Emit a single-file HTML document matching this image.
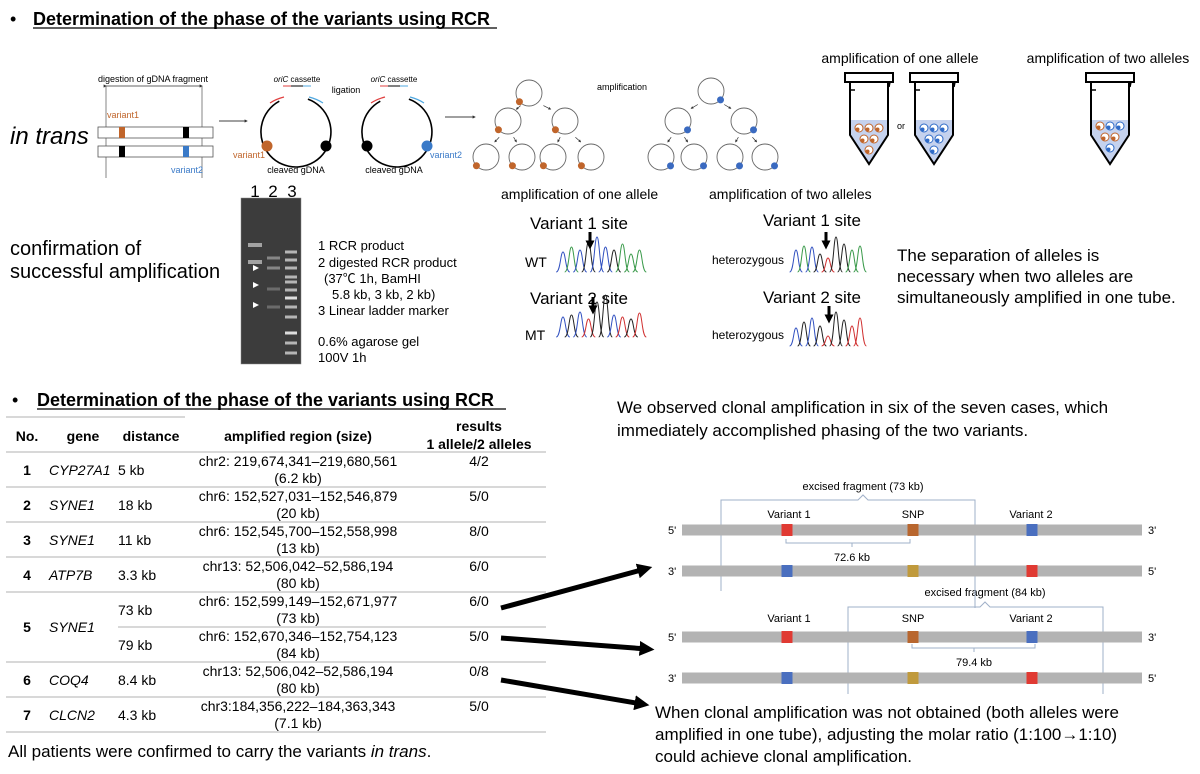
<!DOCTYPE html>
<html><head><meta charset="utf-8"><style>
html,body{margin:0;padding:0;background:#fff;}
svg{display:block;font-family:"Liberation Sans","Noto Sans CJK JP",sans-serif;}
</style></head><body>
<svg id="fig" width="1200" height="774" viewBox="0 0 1200 774" xmlns="http://www.w3.org/2000/svg">
<defs>
<marker id="ah" markerWidth="6" markerHeight="6" refX="5" refY="3" orient="auto"><path d="M0,0 L6,3 L0,6 z" fill="#000"/></marker>
<marker id="ahs" markerWidth="4" markerHeight="4" refX="3" refY="2" orient="auto"><path d="M0,0 L4,2 L0,4 z" fill="#333"/></marker>
<marker id="ahb" markerWidth="3" markerHeight="3" refX="1.5" refY="1.5" orient="auto"><path d="M0,0 L3,1.5 L0,3 z" fill="#000"/></marker>
</defs>

<g>
<text x="10" y="25" font-size="18">•</text>
<text x="33" y="25" font-size="18" font-weight="bold">Determination of the phase of the variants using RCR</text>
<line x1="33" y1="28" x2="497" y2="28" stroke="#000" stroke-width="1.3"/>
</g>

<g>
<text x="10" y="144" font-size="24" font-style="italic">in trans</text>
<text x="153" y="82" font-size="9" text-anchor="middle">digestion of gDNA fragment</text>
<line x1="106" y1="86" x2="202" y2="86" stroke="#333" stroke-width="0.8" marker-start="url(#ahs)" marker-end="url(#ahs)"/>
<line x1="106" y1="86" x2="106" y2="178" stroke="#666" stroke-width="0.8"/>
<line x1="202" y1="86" x2="202" y2="178" stroke="#666" stroke-width="0.8"/>
<rect x="98" y="127" width="115" height="11" fill="#fff" stroke="#555" stroke-width="0.8"/>
<rect x="98" y="146" width="115" height="11" fill="#fff" stroke="#555" stroke-width="0.8"/>
<rect x="119" y="127" width="6" height="11" fill="#c0652b"/>
<rect x="183" y="127" width="6" height="11" fill="#000"/>
<rect x="119" y="146" width="6" height="11" fill="#000"/>
<rect x="183" y="146" width="6" height="11" fill="#3a7ac8"/>
<text x="107" y="118" font-size="9" fill="#c0652b">variant1</text>
<text x="171" y="173" font-size="9" fill="#3a7ac8">variant2</text>
<line x1="219" y1="121" x2="247" y2="121" stroke="#000" stroke-width="0.8" marker-end="url(#ahs)"/>
</g>

<g>
<text x="297" y="82" font-size="8" text-anchor="middle" font-style="italic">oriC <tspan font-style="normal">cassette</tspan></text>
<line x1="283" y1="86" x2="291" y2="86" stroke="#e04040" stroke-width="1"/><line x1="291" y1="86" x2="303" y2="86" stroke="#000" stroke-width="1"/><line x1="303" y1="86" x2="311" y2="86" stroke="#50a8e0" stroke-width="1"/>
<path d="M 307.9 99.1 A 35 35 0 1 1 279.3 101.2" fill="none" stroke="#000" stroke-width="1.6"/>
<path d="M 270 103 Q 276 99 284 97" fill="none" stroke="#e04040" stroke-width="1.2"/>
<path d="M 309 97 Q 317 99 323 103" fill="none" stroke="#50a8e0" stroke-width="1.2"/>
<circle cx="267" cy="146" r="5.5" fill="#c0652b"/>
<circle cx="326" cy="146" r="5.5" fill="#000"/>
<text x="233" y="158" font-size="9" fill="#c0652b">variant1</text>
<text x="296" y="173" font-size="9" text-anchor="middle">cleaved gDNA</text>
<text x="346" y="93" font-size="9" text-anchor="middle">ligation</text>
</g>
<g>
<text x="394" y="82" font-size="8" text-anchor="middle" font-style="italic">oriC <tspan font-style="normal">cassette</tspan></text>
<line x1="380" y1="86" x2="388" y2="86" stroke="#e04040" stroke-width="1"/><line x1="388" y1="86" x2="400" y2="86" stroke="#000" stroke-width="1"/><line x1="400" y1="86" x2="408" y2="86" stroke="#50a8e0" stroke-width="1"/>
<path d="M 408.9 99.1 A 35 35 0 1 1 380.3 101.2" fill="none" stroke="#000" stroke-width="1.6"/>
<path d="M 371 103 Q 377 99 385 97" fill="none" stroke="#e04040" stroke-width="1.2"/>
<path d="M 410 97 Q 418 99 424 103" fill="none" stroke="#50a8e0" stroke-width="1.2"/>
<circle cx="367" cy="146" r="5.5" fill="#000"/>
<circle cx="427" cy="146" r="5.5" fill="#3a7ac8"/>
<text x="430" y="158" font-size="9" fill="#3a7ac8">variant2</text>
<text x="394" y="173" font-size="9" text-anchor="middle">cleaved gDNA</text>
<line x1="445" y1="117" x2="475" y2="117" stroke="#000" stroke-width="0.8" marker-end="url(#ahs)"/>
<text x="597" y="90" font-size="9">amplification</text>
</g>

<g id="trees"></g>

<g>
<text x="900" y="63" font-size="14" text-anchor="middle">amplification of one allele</text>
<text x="1108" y="63" font-size="14" text-anchor="middle">amplification of two alleles</text>
<text x="901" y="129" font-size="9" text-anchor="middle">or</text>
</g>
<g id="tubes"></g>

<g>
<text x="10" y="255" font-size="20">confirmation of</text>
<text x="10" y="278" font-size="20">successful amplification</text>
</g>
<g id="gel">
<text x="255" y="197" font-size="17" text-anchor="middle">1</text>
<text x="273" y="197" font-size="17" text-anchor="middle">2</text>
<text x="292" y="197" font-size="17" text-anchor="middle">3</text>
<rect x="241" y="198" width="60" height="166" fill="#3c3c3c"/>
<rect x="241" y="198" width="60" height="166" fill="none" stroke="#888" stroke-width="0.5"/>
</g>
<g font-size="13">
<text x="318" y="250">1 RCR product</text>
<text x="318" y="267">2 digested RCR product</text>
<text x="324" y="283">(37℃ 1h, BamHI</text>
<text x="332" y="299">5.8 kb, 3 kb, 2 kb)</text>
<text x="318" y="315">3 Linear ladder marker</text>
<text x="318" y="346">0.6% agarose gel</text>
<text x="318" y="362">100V 1h</text>
</g>

<g>
<text x="501" y="199" font-size="14">amplification of one allele</text>
<text x="709" y="199" font-size="14">amplification of two alleles</text>
<text x="530" y="229" font-size="17">Variant 1 site</text>
<text x="530" y="304" font-size="17">Variant 2 site</text>
<text x="525" y="267" font-size="14">WT</text>
<text x="525" y="340" font-size="14">MT</text>
<text x="763" y="226" font-size="17">Variant 1 site</text>
<text x="763" y="303" font-size="17">Variant 2 site</text>
<text x="712" y="264" font-size="12">heterozygous</text>
<text x="712" y="339" font-size="12">heterozygous</text>
</g>
<g id="chroma"></g>
<g font-size="17">
<text x="897" y="261">The separation of alleles is</text>
<text x="897" y="282">necessary when two alleles are</text>
<text x="897" y="303">simultaneously amplified in one tube.</text>
</g>

<g>
<text x="12" y="406" font-size="18">•</text>
<text x="37" y="406" font-size="18" font-weight="bold">Determination of the phase of the variants using RCR</text>
<line x1="37" y1="409" x2="506" y2="409" stroke="#000" stroke-width="1.3"/>
</g>
<g id="table">
<line x1="6" y1="417" x2="185" y2="417" stroke="#ccc" stroke-width="1.5"/>
<g font-size="14" font-weight="bold">
<text x="27" y="441" text-anchor="middle">No.</text>
<text x="83" y="441" text-anchor="middle">gene</text>
<text x="151" y="441" text-anchor="middle">distance</text>
<text x="298" y="441" text-anchor="middle">amplified region (size)</text>
<text x="479" y="431" text-anchor="middle">results</text>
<text x="479" y="449" text-anchor="middle">1 allele/2 alleles</text>
</g>
<line x1="6" y1="452" x2="546" y2="452" stroke="#ccc" stroke-width="1.5"/>
</g>
<text x="8" y="757" font-size="17">All patients were confirmed to carry the variants <tspan font-style="italic">in trans</tspan>.</text>

<g font-size="17">
<text x="617" y="413">We observed clonal amplification in six of the seven cases, which</text>
<text x="617" y="436">immediately accomplished phasing of the two variants.</text>
</g>
<g id="dia"></g>
<g font-size="17">
<text x="655" y="718">When clonal amplification was not obtained (both alleles were</text>
<text x="655" y="740">amplified in one tube), adjusting the molar ratio (1:100→1:10)</text>
<text x="655" y="762">could achieve clonal amplification.</text>
</g>
<g stroke="#000" stroke-width="5">
<line x1="501" y1="608" x2="645" y2="569" marker-end="url(#ahb)"/>
<line x1="501" y1="638" x2="647" y2="649" marker-end="url(#ahb)"/>
<line x1="501" y1="680" x2="642" y2="704" marker-end="url(#ahb)"/>
</g>
</svg>
<script>
const NS="http://www.w3.org/2000/svg";
function mk(parent,tag,attrs,txt){const e=document.createElementNS(NS,tag);for(const k in attrs)e.setAttribute(k,attrs[k]);if(txt!==undefined)e.textContent=txt;parent.appendChild(e);return e;}

const rowNos=["1","2","3","4","5","","6","7"];
const rowGenes=["CYP27A1","SYNE1","SYNE1","ATP7B","SYNE1","","COQ4","CLCN2"];
const rowDist=["5 kb","18 kb","11 kb","3.3 kb","73 kb","79 kb","8.4 kb","4.3 kb"];
const rowRegion=["chr2: 219,674,341–219,680,561","chr6: 152,527,031–152,546,879","chr6: 152,545,700–152,558,998","chr13: 52,506,042–52,586,194","chr6: 152,599,149–152,671,977","chr6: 152,670,346–152,754,123","chr13: 52,506,042–52,586,194","chr3:184,356,222–184,363,343"];
const rowSize=["(6.2 kb)","(20 kb)","(13 kb)","(80 kb)","(73 kb)","(84 kb)","(80 kb)","(7.1 kb)"];
const rowRes=["4/2","5/0","8/0","6/0","6/0","5/0","0/8","5/0"];

const tbl=document.getElementById('table');
rowRegion.forEach((r,i)=>{
  const top=452+i*35;
  const g=mk(tbl,'g',{});
  
  
  const cy=top+23;
  if(rowNos[i]){
    const y=(i===4)?632:cy;
    mk(g,'text',{x:27,y:y,'font-size':14,'font-weight':'bold','text-anchor':'middle'},rowNos[i]);
    mk(g,'text',{x:49,y:y,'font-size':14,'font-style':'italic'},rowGenes[i]);
  }
  mk(g,'text',{x:118,y:cy,'font-size':14},rowDist[i]);
  mk(g,'text',{x:298,y:top+14,'font-size':14,'text-anchor':'middle'},r);
  mk(g,'text',{x:298,y:top+31,'font-size':14,'text-anchor':'middle'},rowSize[i]);
  mk(g,'text',{x:479,y:top+14,'font-size':14,'text-anchor':'middle'},rowRes[i]);
  const x1=(i===4)?118:6;
  mk(g,'line',{x1:x1,y1:top+35,x2:546,y2:top+35,stroke:'#ccc','stroke-width':1.5});
});

const trees=document.getElementById('trees');
function tree(pos,dotAng,col,name){
  const g=mk(trees,'g',{});
  
  
  pos.forEach(p=>{
    mk(g,'circle',{cx:p[0],cy:p[1],r:13,fill:'none',stroke:'#666','stroke-width':0.9});
    mk(g,'circle',{cx:p[0]+13*Math.cos(dotAng),cy:p[1]+13*Math.sin(dotAng),r:3.5,fill:col});
  });
  const edges=[[0,1],[0,2],[1,3],[1,4],[2,5],[2,6]];
  edges.forEach(e=>{const a=pos[e[0]],b=pos[e[1]];
    const dx=b[0]-a[0],dy=b[1]-a[1];
    mk(g,'line',{x1:a[0]+dx*0.4,y1:a[1]+dy*0.45,x2:a[0]+dx*0.6,y2:a[1]+dy*0.58,stroke:'#333','stroke-width':0.7,'marker-end':'url(#ahs)'});
  });
}
tree([[529,93],[508,121],[565,121],[486,157],[522,157],[553,157],[591,157]],2.4,'#c0652b','tree-variant1');
tree([[711,91],[678,121],[744,121],[661,157],[694,157],[730,157],[765,157]],0.75,'#3a6ac0','tree-variant2');

const tubes=document.getElementById('tubes');
function tube(cx,dots,name){
  const g=mk(tubes,'g',{});
  
  
  mk(g,'path',{d:`M${cx-19},120 L${cx+19},120 L${cx+19},135 L${cx},163 L${cx-19},135 Z`,fill:'#c5d2ee'});
  mk(g,'path',{d:`M${cx-19},82 L${cx-19},135 L${cx},164 L${cx+19},135 L${cx+19},82`,fill:'none',stroke:'#000','stroke-width':2});
  mk(g,'rect',{x:cx-24,y:73,width:48,height:9,fill:'#fff',stroke:'#000','stroke-width':2});
  mk(g,'path',{d:`M${cx-19},82 L${cx-19},90 L${cx-14},90`,fill:'none',stroke:'#000','stroke-width':1.5});
  mk(g,'path',{d:`M${cx+21},82 L${cx+20},87`,fill:'none',stroke:'#000','stroke-width':1.5});
  dots.forEach(d=>{
    mk(g,'circle',{cx:cx+d[0],cy:d[1],r:4,fill:'#fff',stroke:d[2],'stroke-width':1});
    mk(g,'circle',{cx:cx+d[0]-1.5,cy:d[1]+1.5,r:2,fill:d[2]});
  });
}
const O='#c0652b',B='#2f6bc8';
tube(869,[[-10,128,O],[0,128,O],[10,128,O],[-5,139,O],[5,139,O],[0,150,O]],'tube-one-allele-a');
tube(934,[[-10,128,B],[0,128,B],[10,128,B],[-5,139,B],[5,139,B],[0,150,B]],'tube-one-allele-b');
tube(1110,[[-10,126,O],[0,126,B],[10,126,B],[-5,137,O],[5,137,O],[0,148,B]],'tube-two-alleles');

const gel=document.getElementById('gel');
const lane1=[245,262];
const lane2=[258,268,289,307];
const ladder=[252,260,268,277,282,290,298,307,317,333,343,353];
lane1.forEach(y=>mk(gel,'rect',{x:248,y:y-2,width:14,height:4,fill:'#bbb',opacity:0.8}));
lane2.forEach((y,i)=>mk(gel,'rect',{x:267,y:y-1.5,width:13,height:3,fill:'#999',opacity:i<2?0.8:0.5}));
ladder.forEach((y,i)=>mk(gel,'rect',{x:285,y:y-1.5,width:12,height:3,fill:'#ddd',opacity:(i==6||i==9)?1:0.75}));
[268,285,305].forEach(y=>mk(gel,'path',{d:`M253,${y-3} L259,${y} L253,${y+3} Z`,fill:'#fff'}));

const ch=document.getElementById('chroma');
const G='#3a9a4a',Bl='#3050c0',K='#222',R='#d03030';
function chroma(x0,base,w,cols,hts,name,ax){
  const g=mk(ch,'g',{});
  
  
  cols.forEach((c,i)=>{
    const x=x0+i*w,t=base-hts[i];
    mk(g,'path',{d:`M${x-w*0.8},${base} C${x-w*0.3},${base} ${x-w*0.3},${t} ${x},${t} C${x+w*0.3},${t} ${x+w*0.3},${base} ${x+w*0.8},${base}`,fill:'none',stroke:c,'stroke-width':1});
  });
  mk(g,'line',{x1:ax,y1:base-40,x2:ax,y2:base-27,stroke:'#000','stroke-width':3,'marker-end':'url(#ahb)'});
}
chroma(563,272,8.5,[Bl,G,Bl,K,Bl,Bl,K,G,G,G],[20,25,22,30,35,25,22,28,18,22],'chromatogram-wt',590);
chroma(563,337,8.5,[Bl,K,Bl,R,K,K,Bl,R,K,R],[20,22,25,18,35,42,22,20,18,24],'chromatogram-mt',593);
chroma(796,272,8,[Bl,G,Bl,K,R,K,K,G,G],[22,26,25,18,14,35,28,22,26],'chromatogram-het1',826);
chroma(796,346,8,[Bl,K,Bl,K,R,K,K,R,R],[18,24,28,20,10,34,26,20,28],'chromatogram-het2',829);

const dia=document.getElementById('dia');
const bracket='#9fb0c8';
mk(dia,'text',{x:863,y:490,'font-size':11,'text-anchor':'middle'},'excised fragment (73 kb)');
mk(dia,'text',{x:985,y:596,'font-size':11,'text-anchor':'middle'},'excised fragment (84 kb)');
mk(dia,'path',{d:'M721,591 L721,500 L858,500 L863,495 L868,500 L975,500 L975,608',fill:'none',stroke:bracket,'stroke-width':1});
mk(dia,'path',{d:'M848,694 L848,607 L980,607 L985,602 L990,607 L1103,607 L1103,694',fill:'none',stroke:bracket,'stroke-width':1});
const barYs=[530,571,637,678];
const ends=[["5'","3'"],["3'","5'"],["5'","3'"],["3'","5'"]];
const RED='#e03a33',BRN='#b8662e',BLU='#4a6fbf',GLD='#c09a3c';
const marks=[[RED,BRN,BLU],[BLU,GLD,RED],[RED,BRN,BLU],[BLU,GLD,RED]];
const markX=[787,913,1032];
barYs.forEach((y,i)=>{
  const g=mk(dia,'g',{});
  
  
  mk(g,'rect',{x:682,y:y-5.5,width:460,height:11,fill:'#b3b3b3'});
  mk(g,'text',{x:668,y:y+4,'font-size':11},ends[i][0]);
  mk(g,'text',{x:1148,y:y+4,'font-size':11},ends[i][1]);
  marks[i].forEach((c,j)=>mk(g,'rect',{x:markX[j]-5.5,y:y-6,width:11,height:12,fill:c}));
});
[518,622].forEach(y=>{
  mk(dia,'text',{x:789,y:y,'font-size':11,'text-anchor':'middle'},'Variant 1');
  mk(dia,'text',{x:913,y:y,'font-size':11,'text-anchor':'middle'},'SNP');
  mk(dia,'text',{x:1031,y:y,'font-size':11,'text-anchor':'middle'},'Variant 2');
});
mk(dia,'path',{d:'M786,539 L786,543 L910,543 L910,539 M852,543 L852,547',fill:'none',stroke:bracket,'stroke-width':1});
mk(dia,'text',{x:852,y:561,'font-size':11,'text-anchor':'middle'},'72.6 kb');
mk(dia,'path',{d:'M912,644 L912,648 L1035,648 L1035,644 M974,648 L974,652',fill:'none',stroke:bracket,'stroke-width':1});
mk(dia,'text',{x:974,y:666,'font-size':11,'text-anchor':'middle'},'79.4 kb');
</script>
</body></html>
